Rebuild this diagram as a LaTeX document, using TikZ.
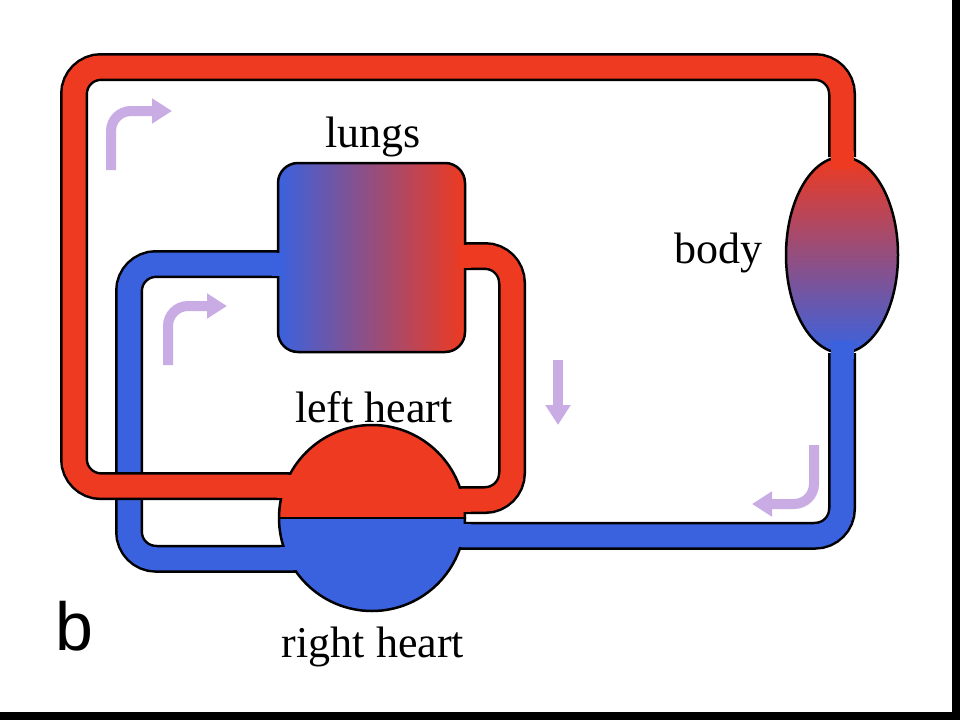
\documentclass[tikz,border=0pt]{standalone}
\usepackage{fontspec}
\setmainfont{Liberation Serif}
\newfontfamily\panelfont{Liberation Sans}
\usetikzlibrary{shapes.geometric,arrows.meta}
\definecolor{artred}{RGB}{238,58,32}
\definecolor{artblue}{RGB}{58,98,222}
\definecolor{flowlilac}{RGB}{201,172,228}
\pgfdeclarelayer{paper}
\pgfdeclarelayer{pipes}
\pgfdeclarelayer{joins}
\pgfsetlayers{paper,pipes,main,joins}
\tikzset{
  tube/.style={line width=2.5pt,double distance=23pt,rounded corners=27pt},
  redtube/.style={tube,double=artred},
  bluetube/.style={tube,double=artblue},
  core/.style={line width=23pt},
  organ/.style={draw=black,line width=2.5pt,inner sep=0pt,outer sep=0pt},
  flow/.style={draw=flowlilac,line width=10pt,rounded corners=20pt,-{Triangle[width=24pt,length=20pt]}},
  lbl/.style={font=\fontsize{44}{50}\selectfont,anchor=base,inner sep=0pt}
}
\begin{document}
\begin{tikzpicture}[x=1pt,y=-1pt]
        \begin{pgfonlayer}{paper}
          \fill[white] (0,0) rectangle (960,720) ;
        \end{pgfonlayer}
        \useasboundingbox (0,0) rectangle (960,720) ;
        % organs
        \node[organ,circle,draw=none,fill=artblue,minimum size=186pt] (heart) at (372,518) {} ;
        \begin{scope}
          \clip (heart.west) rectangle (heart.north -| heart.east) ;
          \fill[artred] (heart.center) circle (93) ;
        \end{scope}
        \draw[line width=2.5pt] (heart.center) circle (93) ;
        \draw[line width=2.5pt] (heart.west) -- (heart.east) ;
        \node[organ,rounded corners=20pt,minimum width=187pt,minimum height=189pt,
          left color=artblue,right color=artred] (lungs) at (371.5,257.5) {} ;
        \node[organ,ellipse,minimum width=112pt,minimum height=196pt,
          top color=artred,bottom color=artblue] (body) at (842,255) {} ;
        % vessels
        \begin{pgfonlayer}{pipes}
          \draw[bluetube] (heart |- heart.206) -| (129,264) -- (lungs |- 0,264) ;
          \draw[bluetube] (body) |- (heart |- heart.349) ;
          \draw[redtube] (lungs |- 0,256) -| (512,500) -- (heart |- heart.11) ;
          \draw[redtube] (heart |- heart.160) -| (74,67) -| (body) ;
        \end{pgfonlayer}
        % openings
        \begin{pgfonlayer}{joins}
          \draw[core,artred] (heart.160) ++(-8,0) -- ++(18,0) ;
          \draw[core,artblue] (heart.206) ++(-8,0) -- ++(20,0) ;
          \draw[core,artred] (heart.11) ++(-10,0) -- ++(18,0) ;
          \draw[core,artblue] (heart.349) ++(-10,0) -- ++(18,0) ;
          \draw[core,artblue] (lungs.west |- 0,264) ++(-6,0) -- ++(12,0) ;
          \draw[core,artred] (lungs.east |- 0,256) ++(-6,0) -- ++(12,0) ;
          \draw[core,artred] (body.north) ++(0,-6) -- ++(0,18) ;
          \draw[core,artblue] (body.south) ++(0,-12) -- ++(0,18) ;
        \end{pgfonlayer}
        % labels
        \node[lbl] (lungslbl) at (373,147) {lungs} ;
        \node[lbl] (leftlbl) at (374,422) {left heart} ;
        \node[lbl] (rightlbl) at (373,657) {right heart} ;
        \node[lbl] (bodylbl) at (718,263) {body} ;
        \node[lbl,font=\panelfont\fontsize{68}{80}\selectfont] (panel) at (74,650) {b} ;
        % flow arrows
        \draw[flow] (111,170) |- (172,111) ;
        \draw[flow] (168,365) |- (227,306) ;
        \draw[flow] (558,360) -- (558,425) ;
        \draw[flow] (814,445) |- (752,504) ;
        % frame
        \fill[black] (952,0) rectangle (960,720) ;
        \fill[black] (0,712) rectangle (960,720) ;
      \end{tikzpicture}
\end{document}
